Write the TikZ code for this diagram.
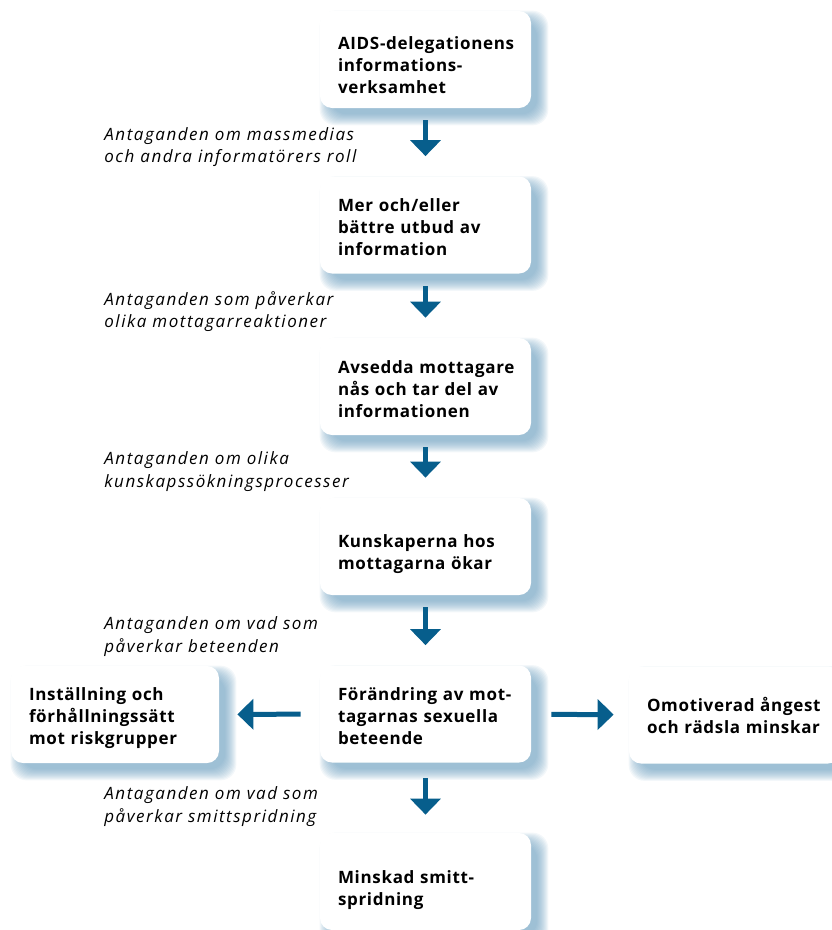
\documentclass[tikz,border=0pt]{standalone}
\usepackage{fontspec}
\setmainfont{Open Sans}[BoldFeatures={LetterSpace=4},ItalicFeatures={LetterSpace=9}]
\usetikzlibrary{arrows.meta,backgrounds}

\definecolor{arrowblue}{RGB}{7,94,140}
\definecolor{shadowblue}{RGB}{95,150,185}

\tikzset{every picture/.style={line width=0.75pt}}
\tikzset{
  stepbox/.style={rectangle, rounded corners=12pt, fill=white,
    minimum width=211pt, minimum height=97pt, text width=197pt,
    inner xsep=7pt, align=left,
    execute at begin node={\leftskip=11pt\relax},
    font=\bfseries\fontsize{17}{22}\selectfont},
  textdown/.style={execute at begin node={\rule{0pt}{#1}}},
  notetext/.style={anchor=west, inner sep=0pt, align=left,
    font=\itshape\fontsize{17}{22.5}\selectfont},
  flowarrow/.style={draw=arrowblue, line width=5pt,
    -{Triangle[width=30pt,length=16pt,color=arrowblue]}},
}

\begin{document}
\begin{tikzpicture}[x=1pt,y=1pt,yscale=-1,xscale=1]
\useasboundingbox (0,0) rectangle (832,930);
% main column
\node [stepbox, textdown=24pt] (aids) at (425.5,59.5) {AIDS-delegationens\\informations-\\verksamhet};
\node [stepbox, textdown=16.5pt] (utbud) at (425.5,225) {Mer och/eller\\bättre utbud av\\information};
\node [stepbox, textdown=18pt] (nas) at (425.5,386.5) {Avsedda mottagare\\nås och tar del av\\informationen};
\node [stepbox, textdown=29pt] (kunskap) at (425.5,546.5) {Kunskaperna hos\\mottagarna ökar};
\node [stepbox, textdown=16.5pt] (beteende) at (425.5,714) {Förändring av mot-\\tagarnas sexuella\\beteende};
\node [stepbox, textdown=31pt] (smitta) at (425.5,881.5) {Minskad smitt-\\spridning};
% side boxes
\node [stepbox, minimum width=208pt, text width=194pt, textdown=21pt] (installning) at (115,714.5) {Inställning och\\förhållningssätt\\mot riskgrupper};
\node [stepbox] (angest) at (734.5,715) {Omotiverad ångest\\och rädsla minskar};
% assumptions
\node [notetext] (ant1) at (104,147) {Antaganden om massmedias\\och andra informatörers roll};
\node [notetext] (ant2) at (104,311.5) {Antaganden som påverkar\\olika mottagarreaktioner};
\node [notetext] (ant3) at (104,471.5) {Antaganden om olika\\kunskapssökningsprocesser};
\node [notetext] (ant4) at (104,636.5) {Antaganden om vad som\\påverkar beteenden};
\node [notetext] (ant5) at (104,806.5) {Antaganden om vad som\\påverkar smittspridning};
% blurred shadows
\begin{scope}[on background layer]
\foreach \b in {aids,utbud,nas,kunskap,beteende,smitta,installning,angest}
  \foreach \k [evaluate=\k as \a using 5-12+\k,
               evaluate=\k as \c using 5+12-\k] in {0,...,11}
    \fill [shadowblue, opacity=0.075, rounded corners=16pt]
      ([shift={(\a,\a)}]\b.north west)
      rectangle ([shift={(\c,\c)}]\b.south east);
\end{scope}
% arrows
\draw [flowarrow, shorten <=12pt, shorten >=20pt] (aids) -- (utbud);
\draw [flowarrow, shorten <=12pt, shorten >=20pt] (utbud) -- (nas);
\draw [flowarrow, shorten <=12pt, shorten >=20pt] (nas) -- (kunskap);
\draw [flowarrow, shorten <=12pt, shorten >=20pt] (kunskap) -- (beteende);
\draw [flowarrow, shorten <=15pt, shorten >=18pt] (beteende) -- (smitta);
\draw [flowarrow, shorten <=19pt, shorten >=18pt] (beteende) -- (installning);
\draw [flowarrow, shorten <=20pt, shorten >=15pt] (beteende) -- (angest);
\end{tikzpicture}
\end{document}
